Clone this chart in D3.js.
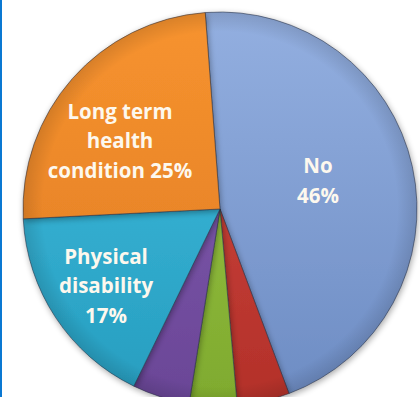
<!DOCTYPE html>
<html><head><meta charset="utf-8">
<script src="https://cdn.jsdelivr.net/npm/d3@7"></script>
<style>html,body{margin:0;padding:0;background:#fff;overflow:hidden}</style>
</head><body>
<svg id="chart" width="420" height="397"></svg>
<script>
const categories = ["No", "Other A", "Other B", "Other C", "Physical disability", "Long term health condition"];
const values = [45.5, 4.3, 3.9, 4.7, 17, 24.6];
const labelLines = [["No", "46%"], [], [], [], ["Physical", "disability", "17%"], ["Long term", "health", "condition 25%"]];
const colorsLight = ["#93afe0", "#d24a3e", "#9cc84a", "#8462b4", "#3ebee0", "#f7932f"];
const colorsDark  = ["#6d8cc3", "#b3302a", "#7faa2e", "#6a4596", "#279dbf", "#de7a22"];

const svg = d3.select("#chart");
const W = 420, H = 397;
const cx = 220, cy = 209, R = 197;
const startOff = -4.3 * Math.PI / 180;

const defs = svg.append("defs");
const blur = defs.append("filter").attr("id", "shadow").attr("x", "-20%").attr("y", "-20%").attr("width", "140%").attr("height", "140%");
blur.append("feGaussianBlur").attr("in", "SourceAlpha").attr("stdDeviation", 3);
blur.append("feOffset").attr("dx", 1).attr("dy", 2).attr("result", "b");
blur.append("feComponentTransfer").append("feFuncA").attr("type", "linear").attr("slope", 0.35);
const m = blur.append("feMerge"); m.append("feMergeNode"); m.append("feMergeNode").attr("in", "SourceGraphic");

categories.forEach((c, i) => {
  const gr = defs.append("linearGradient").attr("id", "grad" + i).attr("gradientUnits", "userSpaceOnUse")
    .attr("x1", 0).attr("y1", -R).attr("x2", 0).attr("y2", R);
  gr.append("stop").attr("offset", "0%").attr("stop-color", colorsLight[i]);
  gr.append("stop").attr("offset", "100%").attr("stop-color", colorsDark[i]);
});
const rim = defs.append("radialGradient").attr("id", "rim").attr("gradientUnits", "userSpaceOnUse")
  .attr("cx", 0).attr("cy", 0).attr("r", R);
rim.append("stop").attr("offset", "0%").attr("stop-color", "#000").attr("stop-opacity", 0);
rim.append("stop").attr("offset", "90%").attr("stop-color", "#000").attr("stop-opacity", 0);
rim.append("stop").attr("offset", "100%").attr("stop-color", "#000").attr("stop-opacity", 0.12);

svg.append("rect").attr("x", 0).attr("y", 0).attr("width", 2).attr("height", H).attr("fill", "#0a78d2");

const pie = d3.pie().sort(null).value(d => d).startAngle(startOff).endAngle(startOff + 2 * Math.PI);
const arcs = pie(values);
const arc = d3.arc().innerRadius(0).outerRadius(R);

const g = svg.append("g").attr("transform", `translate(${cx},${cy})`);
g.selectAll("path.slice").data(arcs).enter().append("path")
  .attr("class", "slice")
  .attr("d", arc)
  .attr("fill", (d, i) => `url(#grad${i})`)
  .attr("stroke", "rgba(40,50,70,0.55)")
  .attr("stroke-width", 1)
  .attr("filter", "url(#shadow)");
g.append("circle").attr("r", R).attr("fill", "url(#rim)").attr("pointer-events", "none");

const labelPos = [[98, -28], null, null, null, [-114, 77], [-100, -68]];
const lineH = 29.5;
arcs.forEach((d, i) => {
  const lines = labelLines[i];
  if (!lines.length) return;
  const [lx, ly] = labelPos[i];
  const t = g.append("text").attr("text-anchor", "middle")
    .attr("font-family", "'Open Sans', Lato, sans-serif").attr("font-weight", "bold")
    .attr("font-size", 20.5).attr("fill", "#fdf8ee");
  const n = lines.length;
  lines.forEach((s, k) => {
    t.append("tspan").attr("x", lx).attr("y", ly + (k - (n - 1) / 2) * lineH).attr("dy", "0.35em").text(s);
  });
});
</script>
</body></html>
